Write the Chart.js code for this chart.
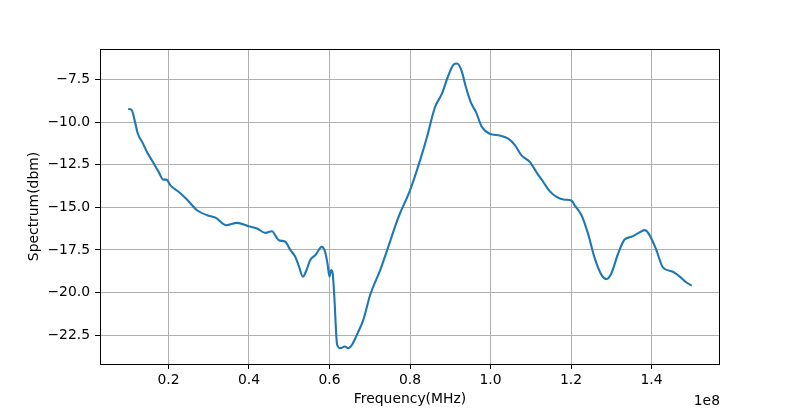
<!DOCTYPE html>
<html>
<head>
<meta charset="utf-8">
<script src="https://cdn.jsdelivr.net/npm/chart.js@4/dist/chart.umd.min.js"></script>
<style>
  html, body { margin: 0; padding: 0; background: #fff; }
  canvas { display: block; }
</style>
</head>
<body>
<canvas id="chart" width="800" height="409"></canvas>
<script>
// frequency in units of 1e8 Hz (axis shows "1e8" offset)
const freqs = [0.100, 0.108, 0.118, 0.124, 0.135, 0.147, 0.164, 0.176, 0.187, 0.195,
  0.205, 0.226, 0.246, 0.271, 0.296, 0.317, 0.344, 0.370, 0.399, 0.420,
  0.441, 0.457, 0.474, 0.490, 0.503, 0.515, 0.523, 0.534, 0.543, 0.552,
  0.565, 0.581, 0.589, 0.595, 0.600, 0.604, 0.608, 0.612, 0.619, 0.627,
  0.638, 0.647, 0.656, 0.668, 0.684, 0.701, 0.726, 0.746, 0.767, 0.775,
  0.800, 0.825, 0.842, 0.862, 0.879, 0.895, 0.908, 0.917, 0.928, 0.939,
  0.951, 0.964, 0.978, 0.998, 1.023, 1.044, 1.061, 1.077, 1.098, 1.114,
  1.131, 1.147, 1.164, 1.184, 1.201, 1.209, 1.226, 1.242, 1.259, 1.276,
  1.288, 1.300, 1.317, 1.333, 1.350, 1.366, 1.383, 1.395, 1.412, 1.428,
  1.453, 1.470, 1.486, 1.500];
const spectrum = [-9.22, -9.26, -10.09, -10.68, -11.17, -11.76, -12.44, -12.93, -13.37, -13.37,
  -13.71, -14.10, -14.54, -15.17, -15.46, -15.60, -16.05, -15.91, -16.11, -16.24,
  -16.50, -16.40, -16.93, -17.02, -17.51, -17.90, -18.39, -19.07, -18.68, -18.10,
  -17.80, -17.32, -17.61, -18.29, -19.07, -18.68, -18.88, -20.25, -23.07, -23.27,
  -23.17, -23.27, -23.07, -22.49, -21.61, -20.15, -18.68, -17.32, -15.85, -15.36,
  -14.00, -12.24, -10.88, -9.12, -8.34, -7.27, -6.62, -6.55, -6.97, -7.95,
  -8.83, -9.41, -10.25, -10.68, -10.78, -10.97, -11.36, -11.95, -12.34, -12.93,
  -13.51, -14.05, -14.39, -14.55, -14.60, -14.88, -15.46, -16.53, -18.00, -18.98,
  -19.21, -18.88, -17.71, -16.89, -16.73, -16.53, -16.34, -16.63, -17.51, -18.52,
  -18.78, -19.07, -19.40, -19.60];

const xTicks = [0.2, 0.4, 0.6, 0.8, 1.0, 1.2, 1.4];
const yTicks = [-22.5, -20.0, -17.5, -15.0, -12.5, -10.0, -7.5];

const FONT = 'DejaVu Sans';
const fmt = v => v.toFixed(1).replace('-', '\u2212');

// full frame + offset label, matplotlib style
const framePlugin = {
  id: 'frame',
  afterDraw(c){
    const { ctx, chartArea: a } = c;
    ctx.save();
    ctx.strokeStyle = '#000';
    ctx.lineWidth = 1;
    ctx.strokeRect(a.left + 0.5, a.top + 0.5, a.right - a.left - 1, a.bottom - a.top);
    ctx.fillStyle = '#000';
    ctx.font = `13.9px "${FONT}"`;
    ctx.textAlign = 'right';
    ctx.textBaseline = 'alphabetic';
    ctx.fillText('1e8', a.right, 405);
    ctx.restore();
  }
};

new Chart(document.getElementById('chart').getContext('2d'), {
  type: 'line',
  data: {
    datasets: [{
      data: freqs.map((f, i) => ({ x: f, y: spectrum[i] })),
      borderColor: '#1f77b4',
      borderWidth: 2.1,
      pointRadius: 0,
      cubicInterpolationMode: 'monotone',
      fill: false
    }]
  },
  options: {
    responsive: false,
    animation: false,
    layout: { padding: { top: 49, right: 80, left: 0, bottom: 0 } },
    plugins: { legend: { display: false }, tooltip: { enabled: false } },
    scales: {
      x: {
        type: 'linear',
        min: 0.03, max: 1.57,
        afterBuildTicks: ax => { ax.ticks = xTicks.map(v => ({ value: v })); },
        afterFit: ax => { ax.height = 45; },
        border: { display: false },
        grid: { color: '#b0b0b0', lineWidth: 1, tickColor: '#000', tickLength: 5 },
        ticks: { color: '#000', font: { family: FONT, size: 13.9 }, padding: 3, maxRotation: 0, callback: v => fmt(v) },
        title: { display: true, text: 'Frequency(MHz)', color: '#000', font: { family: FONT, size: 13.9 }, padding: { top: 0, bottom: 1 } }
      },
      y: {
        type: 'linear',
        min: -24.2, max: -5.7,
        afterBuildTicks: ax => { ax.ticks = yTicks.map(v => ({ value: v })); },
        afterFit: ax => { ax.width = 100; },
        border: { display: false },
        grid: { color: '#b0b0b0', lineWidth: 1, tickColor: '#000', tickLength: 5 },
        ticks: { color: '#000', font: { family: FONT, size: 13.9 }, padding: 5, callback: v => fmt(v) },
        title: { display: true, text: 'Spectrum(dbm)', color: '#000', font: { family: FONT, size: 13.9 }, padding: { top: 26, bottom: 0 } }
      }
    }
  },
  plugins: [framePlugin]
});
</script>
</body>
</html>
